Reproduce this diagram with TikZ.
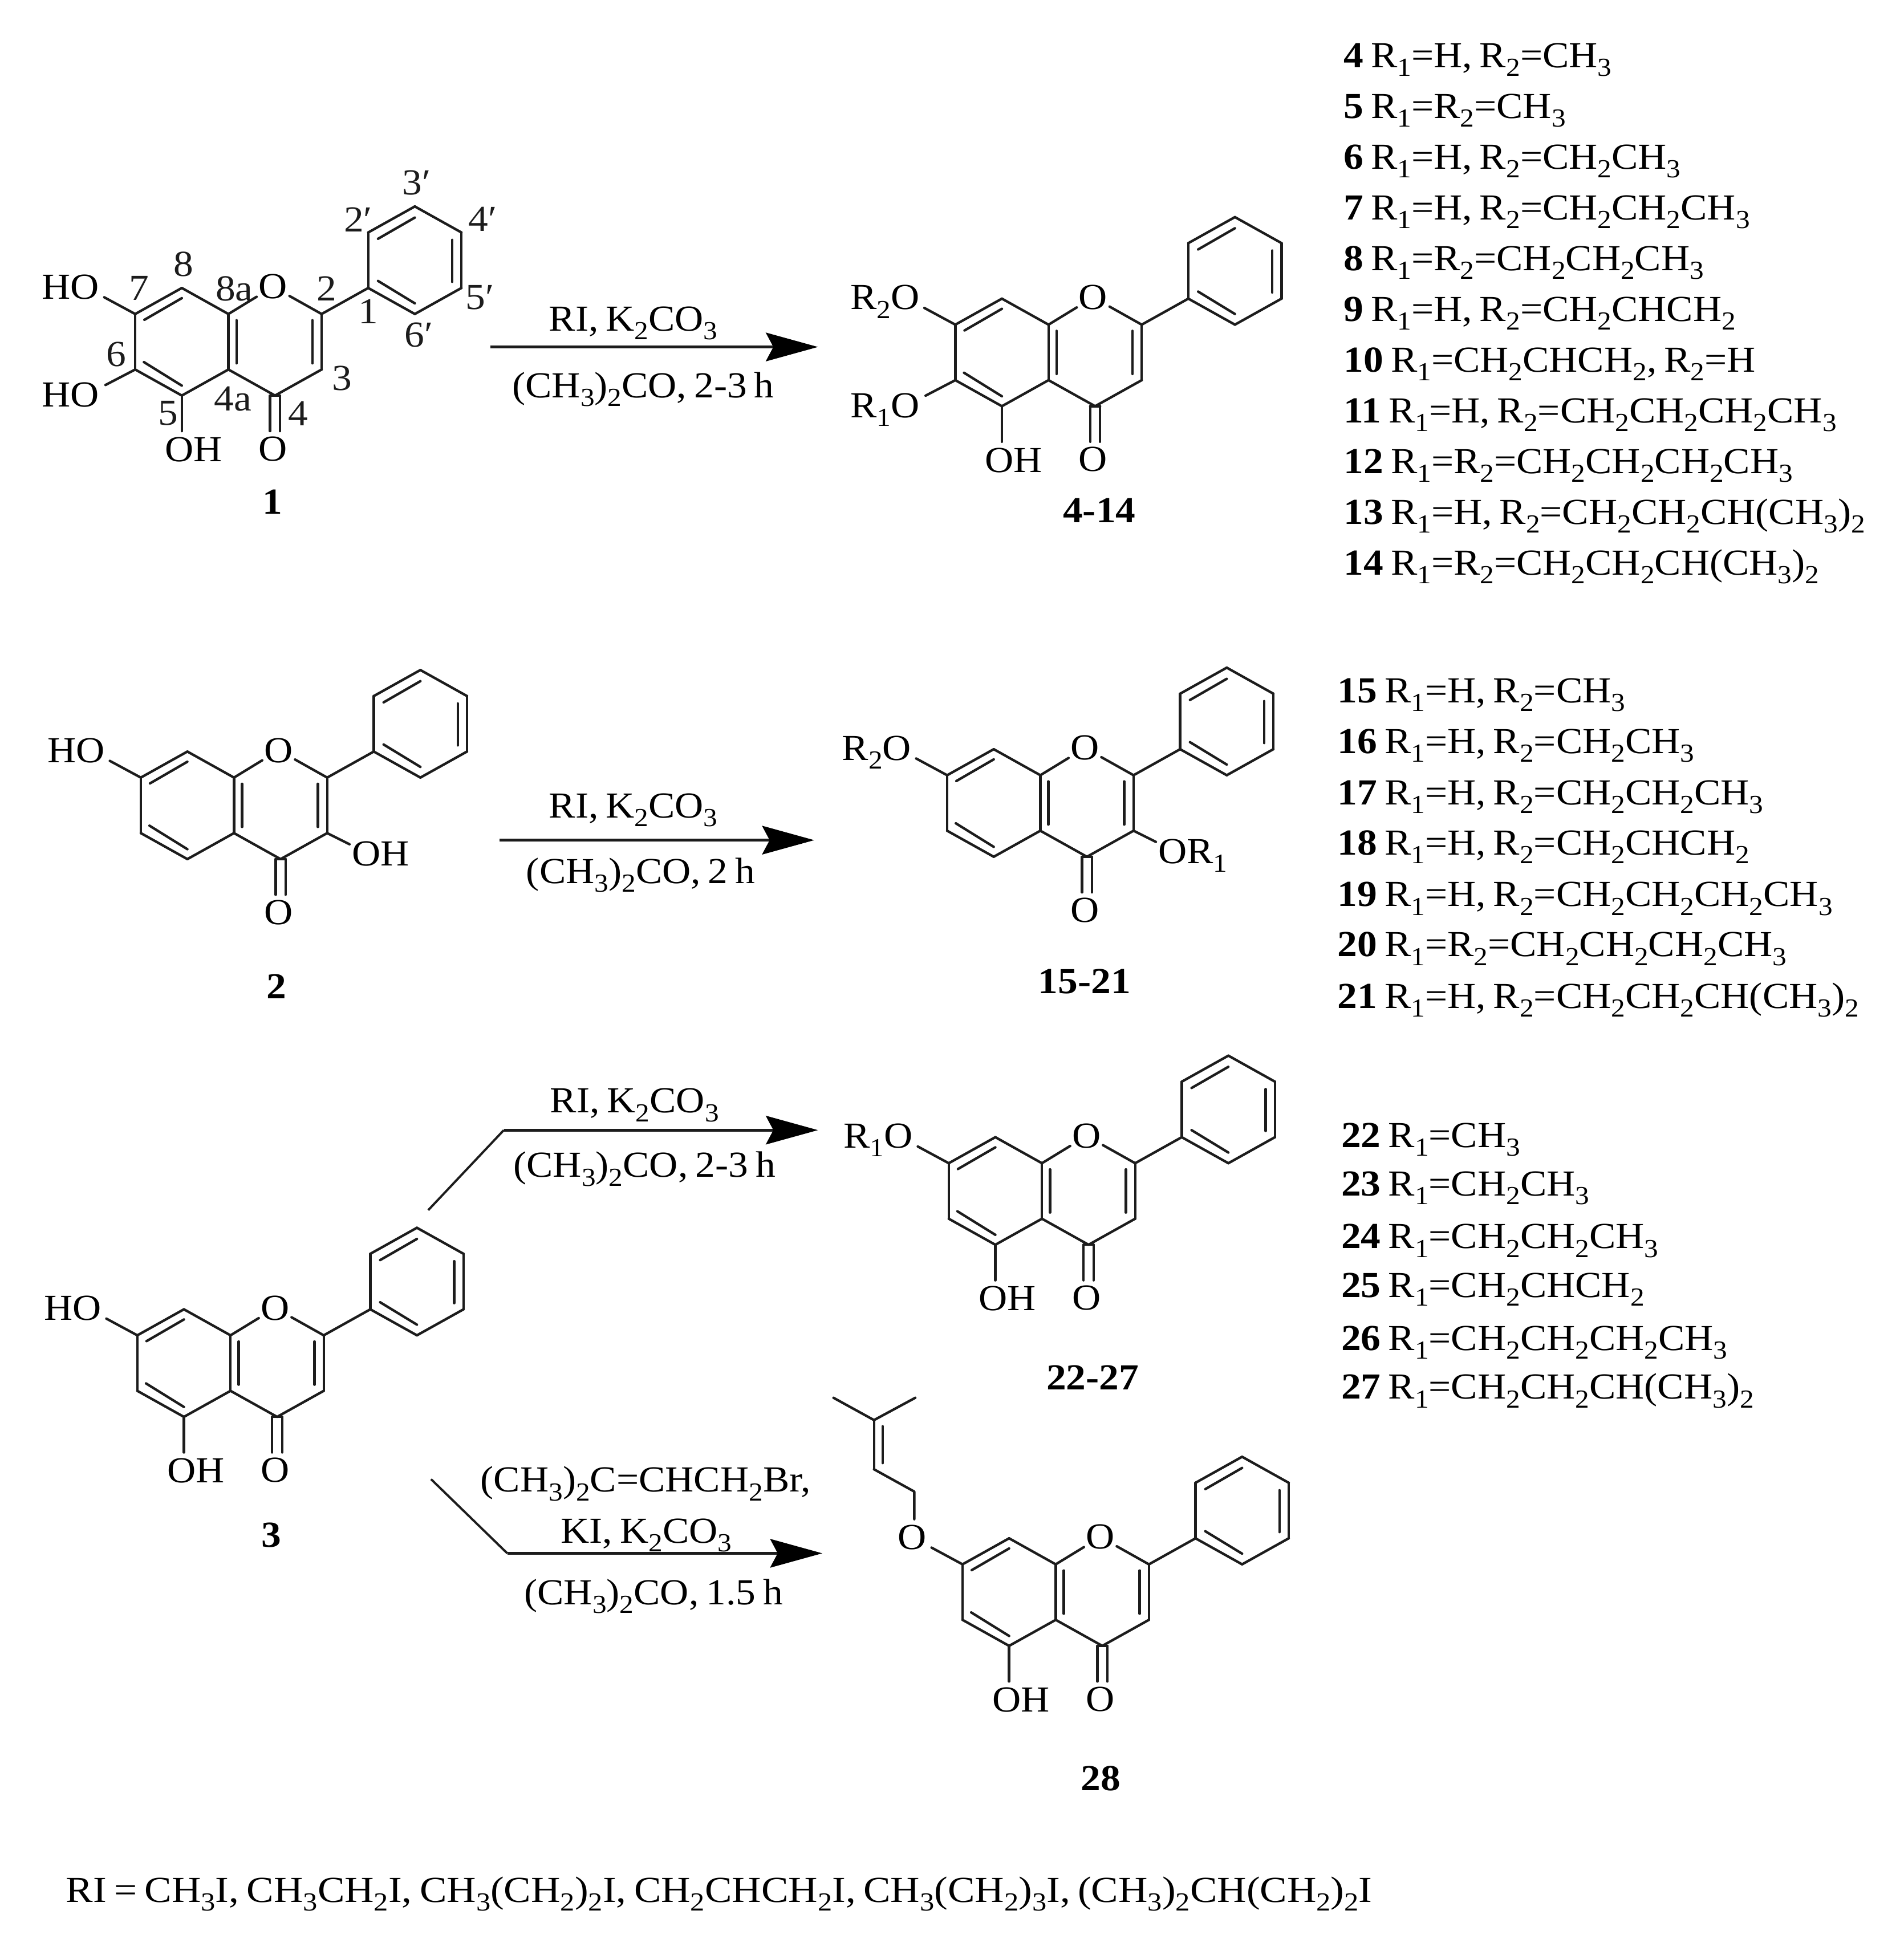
\documentclass[tikz,border=0pt]{standalone}
\usepackage{fontspec}
\setmainfont[FakeStretch=1.08,WordSpace=0.75]{Liberation Serif}
\usetikzlibrary{calc,arrows.meta}
\definecolor{ink}{HTML}{1C1C1C}
\tikzset{
  bond/.style={draw=ink,line width=2pt,line cap=round,line join=round},
  rxnline/.style={draw=ink,line width=2.4pt,line join=round,-{Stealth[length=42pt,width=23pt,inset=6pt,color=black,fill=black]}},
  rxntail/.style={draw=ink,line width=1.8pt},
  txt/.style={font=\fontsize{29.6}{30}\selectfont,text=black,inner sep=0pt,anchor=base},
  txtw/.style={txt,anchor=base west},
  txte/.style={txt,anchor=base east},
  atom/.style={font=\fontsize{29.6}{30}\selectfont,text=black,inner sep=1.5pt,anchor=center},
  numl/.style={font=\fontsize{29.6}{30}\selectfont,text=ink,inner sep=0pt,anchor=center},
  cpd/.style={font=\fontsize{29.6}{30}\selectfont\bfseries,text=black,inner sep=0pt,anchor=center}
}
\newcommand{\sbs}[1]{\raisebox{-7pt}{\fontsize{21}{21}\selectfont #1}}
\newcommand{\Ra}{R\sbs{1}}
\newcommand{\Rb}{R\sbs{2}}
\newcommand{\CHb}{CH\sbs{2}}
\newcommand{\CHc}{CH\sbs{3}}
\newcommand{\fdx}{37.6}
\newcommand{\fdy}{21}
\newcommand{\fv}{44.8}
\newcommand{\dbl}[6]{\draw[bond] (#1) -- (#2);\draw[bond] ($(#1)+(#3,#4)$) -- ($(#2)+(#5,#6)$);}
\newcommand{\flavone}[3]{%
\begin{scope}[shift={(#2,#3)}]
\coordinate (#1a8) at (0,0);
\coordinate (#1a4) at (0,\fv);
\coordinate (#1c5) at (-\fdx,\fv+\fdy);
\coordinate (#1c6) at (-2*\fdx,\fv);
\coordinate (#1c7) at (-2*\fdx,0);
\coordinate (#1c8) at (-\fdx,-\fdy);
\coordinate (#1c2) at (2*\fdx,0);
\coordinate (#1c3) at (2*\fdx,\fv);
\coordinate (#1c4) at (\fdx,\fv+\fdy);
\coordinate (#1p1) at (3*\fdx,-\fdy);
\coordinate (#1p2) at (3*\fdx,-\fdy-\fv);
\coordinate (#1p3) at (4*\fdx,-2*\fdy-\fv);
\coordinate (#1p4) at (5*\fdx,-\fdy-\fv);
\coordinate (#1p5) at (5*\fdx,-\fdy);
\coordinate (#1p6) at (4*\fdx,0);
\coordinate (#1e7) at (-2*\fdx-25,-13.5);
\coordinate (#1e6) at (-2*\fdx-24,\fv+12.5);
\coordinate (#1e5) at (-\fdx,94.5);
\coordinate (#1e3) at (2*\fdx+18,\fv+9);
\coordinate (#1e4a) at (\fdx-4,94.5);
\coordinate (#1e4b) at (\fdx+4,94.5);
\coordinate (#1l7) at (-104,-12.2);
\coordinate (#1l6) at (-104,75);
\coordinate (#1l5) at (-28,119);
\coordinate (#1l3) at (95,71);
\node[atom] (#1O1) at (36,-22) {O};
\node[atom] (#1O4) at (36,108.8) {O};
\end{scope}
\draw[bond] (#1c8) -- (#1a8) -- (#1O1);
\draw[bond] (#1O1) -- (#1c2) -- (#1p1);
\draw[bond] (#1c7) -- (#1c6);
\draw[bond] (#1c5) -- (#1a4) -- (#1c4) -- (#1c3);
\draw[bond] (#1p1) -- (#1p2);
\draw[bond] (#1p3) -- (#1p4);
\draw[bond] (#1p5) -- (#1p6);
\dbl{#1c7}{#1c8}{7.4}{4.7}{0}{8.2}
\dbl{#1c6}{#1c5}{7}{-6}{0}{-8}
\dbl{#1a8}{#1a4}{6.5}{5}{6.5}{-5}
\dbl{#1c2}{#1c3}{-7.5}{5}{-7.5}{-5}
\dbl{#1p2}{#1p3}{7.9}{5.1}{0}{9}
\dbl{#1p4}{#1p5}{-7.5}{6}{-7.5}{-5}
\dbl{#1p1}{#1p6}{7.9}{-5.7}{0}{-8.6}
\draw[bond] ($(#1c4)+(-4,0)$) -- (#1e4a);
\draw[bond] ($(#1c4)+(4,0)$) -- (#1e4b);
\draw[bond] ($(#1c4)+(-4,0)$) -- ($(#1c4)+(4,0)$);
}
\newcommand{\lrow}[4]{\node[txtw] (r#1) at (#2,#3) {\textbf{#1} #4};}
\begin{document}
\begin{tikzpicture}[x=1pt,y=-1pt]
\useasboundingbox (0,0) rectangle (1536,1568);
\fill[white] (0,0) rectangle (1536,1568);

% compound 1
\flavone{m}{184.3}{253.4}
\draw[bond] (mc7) -- (me7);\draw[bond] (mc6) -- (me6);\draw[bond] (mc5) -- (me5);
\node[txte] (mHO7) at (ml7) {HO};
\node[txte] (mHO6) at (ml6) {HO};
\node[txt] (mOH5) at (ml5) {OH};
\node[numl] (n7) at (112,232.4) {7};
\node[numl] (n8) at (148,213) {8};
\node[numl] (n8a) at (189,233) {8a};
\node[numl] (n2) at (263.5,233) {2};
\node[numl] (n1) at (297,251.5) {1};
\node[numl] (n6) at (94,286) {6};
\node[numl] (n5) at (135.5,333.5) {5};
\node[numl] (n4a) at (188,322) {4a};
\node[numl] (n4) at (240.6,333.5) {4};
\node[numl] (n3) at (275.8,305.4) {3};
\node[numl] (n2p) at (289,177) {2′};
\node[numl] (n3p) at (336,147.5) {3′};
\node[numl] (n4p) at (389.6,177) {4′};
\node[numl] (n5p) at (387.3,240) {5′};
\node[numl] (n6p) at (338,270.5) {6′};
\node[cpd] (c1) at (220,405) {1};

% compounds 4-14
\flavone{b}{846}{262}
\draw[bond] (bc7) -- (be7);\draw[bond] (bc6) -- (be6);\draw[bond] (bc5) -- (be5);
\node[txte] (bO7) at (bl7) {\Rb O};
\node[txte] (bO6) at (bl6) {\Ra O};
\node[txt] (bOH5) at (bl5) {OH};
\node[cpd] (c4) at (887,411.8) {4-14};

% compound 2
\flavone{c}{188.8}{627.5}
\draw[bond] (cc7) -- (ce7);\draw[bond] (cc3) -- (ce3);
\node[txte] (cHO7) at (cl7) {HO};
\node[txtw] (cOH3) at (cl3) {OH};
\node[cpd] (c2) at (223,796) {2};

% compounds 15-21
\flavone{d}{839.4}{625.6}
\draw[bond] (dc7) -- (de7);\draw[bond] (dc3) -- (de3);
\node[txte] (dO7) at (dl7) {\Rb O};
\node[txtw] (dO3) at (dl3) {O\Ra};
\node[cpd] (c15) at (875,792) {15-21};

% compound 3
\flavone{e}{186}{1077.6}
\draw[bond] (ec7) -- (ee7);\draw[bond] (ec5) -- (ee5);
\node[txte] (eHO7) at (el7) {HO};
\node[txt] (eOH5) at (el5) {OH};
\node[cpd] (c3) at (219,1239) {3};

% compounds 22-27
\flavone{f}{840.7}{938.7}
\draw[bond] (fc7) -- (fe7);\draw[bond] (fc5) -- (fe5);
\node[txte] (fO7) at (fl7) {\Ra O};
\node[txt] (fOH5) at (fl5) {OH};
\node[cpd] (c22) at (881.6,1111.6) {22-27};

% compound 28
\flavone{g}{851.8}{1262.4}
\draw[bond] (gc7) -- (ge7);\draw[bond] (gc5) -- (ge5);
\node[txte] (gO7) at (gl7) {O};
\node[txt] (gOH5) at (gl5) {OH};
\coordinate (ga) at (737.7,1226);
\coordinate (gb) at (737.7,1203.7);
\coordinate (gcc) at (705.2,1185.7);
\coordinate (gd) at (705.2,1146);
\coordinate (gme1) at (672.5,1128);
\coordinate (gme2) at (738.5,1128);
\draw[bond] (ga) -- (gb) -- (gcc);
\dbl{gcc}{gd}{7}{-5}{7}{5}
\draw[bond] (gme1) -- (gd) -- (gme2);
\node[cpd] (c28) at (888,1435) {28};

% arrows
\coordinate (a1s) at (395.5,280);\coordinate (a1e) at (660,280);
\draw[rxnline] (a1s) -- (a1e);
\node[txt] (a1t) at (511,267) {RI, K\sbs{2}CO\sbs{3}};
\node[txt] (a1b) at (519,321) {(\CHc)\sbs{2}CO, 2-3 h};

\coordinate (a2s) at (403,678);\coordinate (a2e) at (657,678);
\draw[rxnline] (a2s) -- (a2e);
\node[txt] (a2t) at (511,660) {RI, K\sbs{2}CO\sbs{3}};
\node[txt] (a2b) at (517,713) {(\CHc)\sbs{2}CO, 2 h};

\coordinate (a3t) at (345.5,976.6);\coordinate (a3c) at (406.5,912);\coordinate (a3e) at (660,912);
\draw[rxntail] (a3t) -- (a3c);
\draw[rxnline] (a3c) -- (a3e);
\node[txt] (a3u) at (512,898) {RI, K\sbs{2}CO\sbs{3}};
\node[txt] (a3b) at (520,950) {(\CHc)\sbs{2}CO, 2-3 h};

\coordinate (a4t) at (347.8,1193.7);\coordinate (a4c) at (409.3,1253.5);\coordinate (a4e) at (663.5,1253.5);
\draw[rxntail] (a4t) -- (a4c);
\draw[rxnline] (a4c) -- (a4e);
\node[txt] (a4u) at (521,1204) {(\CHc)\sbs{2}C=CH\CHb Br,};
\node[txt] (a4m) at (521.5,1245) {KI, K\sbs{2}CO\sbs{3}};
\node[txt] (a4b) at (527.4,1295) {(\CHc)\sbs{2}CO, 1.5 h};

% first list
\lrow{4}{1084}{54.6}{\Ra=H, \Rb=\CHc}
\lrow{5}{1084}{95.5}{\Ra=\Rb=\CHc}
\lrow{6}{1084}{136.4}{\Ra=H, \Rb=\CHb\CHc}
\lrow{7}{1084}{177.3}{\Ra=H, \Rb=\CHb\CHb\CHc}
\lrow{8}{1084}{218.2}{\Ra=\Rb=\CHb\CHb\CHc}
\lrow{9}{1084}{259.3}{\Ra=H, \Rb=\CHb CH\CHb}
\lrow{10}{1084}{300}{\Ra=\CHb CH\CHb, \Rb=H}
\lrow{11}{1084}{341}{\Ra=H, \Rb=\CHb\CHb\CHb\CHc}
\lrow{12}{1084}{382}{\Ra=\Rb=\CHb\CHb\CHb\CHc}
\lrow{13}{1084}{423}{\Ra=H, \Rb=\CHb\CHb CH(\CHc)\sbs{2}}
\lrow{14}{1084}{464}{\Ra=\Rb=\CHb\CHb CH(\CHc)\sbs{2}}

% second list
\lrow{15}{1079}{567}{\Ra=H, \Rb=\CHc}
\lrow{16}{1079}{608}{\Ra=H, \Rb=\CHb\CHc}
\lrow{17}{1079}{649.5}{\Ra=H, \Rb=\CHb\CHb\CHc}
\lrow{18}{1079}{690}{\Ra=H, \Rb=\CHb CH\CHb}
\lrow{19}{1079}{731.5}{\Ra=H, \Rb=\CHb\CHb\CHb\CHc}
\lrow{20}{1079}{772}{\Ra=\Rb=\CHb\CHb\CHb\CHc}
\lrow{21}{1079}{813.5}{\Ra=H, \Rb=\CHb\CHb CH(\CHc)\sbs{2}}

% third list
\lrow{22}{1082}{926}{\Ra=\CHc}
\lrow{23}{1082}{965}{\Ra=\CHb\CHc}
\lrow{24}{1082}{1007.5}{\Ra=\CHb\CHb\CHc}
\lrow{25}{1082}{1047}{\Ra=\CHb CH\CHb}
\lrow{26}{1082}{1089.5}{\Ra=\CHb\CHb\CHb\CHc}
\lrow{27}{1082}{1129}{\Ra=\CHb\CHb CH(\CHc)\sbs{2}}

% footnote
\node[txtw,xscale=1.025,transform shape] (foot) at (53,1535) {RI = \CHc I, \CHc\CHb I, \CHc(\CHb)\sbs{2}I, \CHb CH\CHb I, \CHc(\CHb)\sbs{3}I, (\CHc)\sbs{2}CH(\CHb)\sbs{2}I};
\end{tikzpicture}
\end{document}
